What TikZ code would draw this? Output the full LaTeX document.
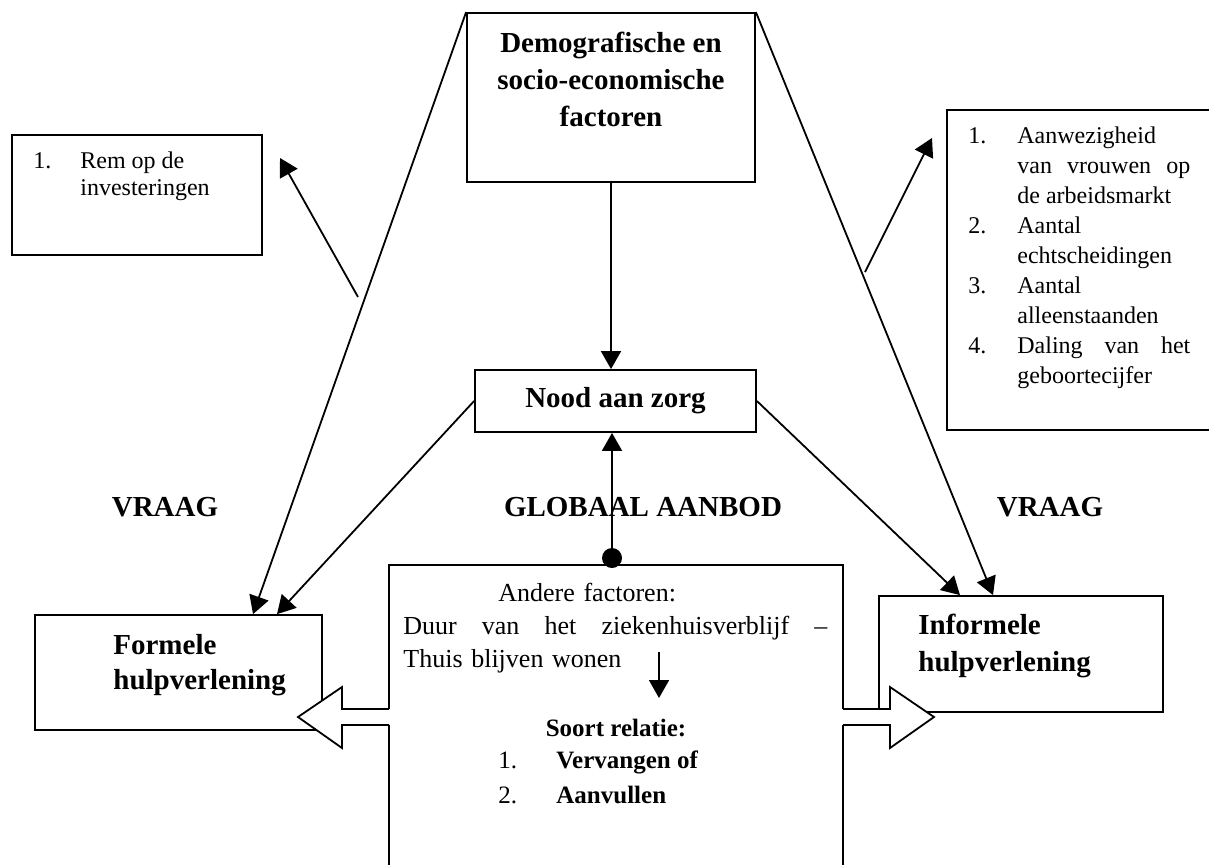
\documentclass[tikz,border=0pt]{standalone}
\usepackage{fontspec}
\setmainfont{Liberation Serif}
\usetikzlibrary{positioning,arrows.meta,calc}

\newcommand{\lw}{0.9pt}
\newcommand{\blokvorm}{(0,-8) -- (-47,-8) -- (-47,-30) -- (-91,0) -- (-47,31) -- (-47,8) -- (0,8)}

\tikzset{
  box/.style={draw, line width=\lw, inner sep=0pt},
  pijl/.style={line width=\lw, -{Triangle[length=9pt,width=10pt]}},
  titel/.style={font=\fontsize{14.5}{18.5}\selectfont\bfseries, inner sep=0pt},
  tekst/.style={font=\fontsize{12}{13.5}\selectfont, inner sep=0pt},
  blok/.style={line width=\lw, fill=white},
}

\begin{document}
\begin{tikzpicture}[x=0.5pt,y=-0.5pt]
  \useasboundingbox (0,0) rectangle (1209,864);

  % bovenaan
  \node[box, minimum width=144pt, minimum height=84.5pt] (demo) at (611,97.5) {};
  \node[titel, align=center, anchor=north] (demotekst) at (611,32) {Demografische en\\socio-economische\\factoren};
  \node[box, titel, minimum width=140.5pt, minimum height=31pt] (nood) at (615.5,401) {Nood aan zorg};

  % zijkant links
  \node[box, minimum width=125pt, minimum height=60pt] (rem) at (137,195) {};
  \node[tekst, anchor=north west] (remtekst) at (33,149)
    {\begin{tabular}{@{}p{23.5pt}@{}l@{}}1. & Rem op de\\ & investeringen\end{tabular}};

  % zijkant rechts (loopt van het blad af)
  \draw[line width=\lw] (1215,110) -- (947,110) -- (947,430) -- (1215,430);
  \node[tekst, font=\fontsize{12}{15}\selectfont, anchor=north west] (factlijst) at (968,122)
    {\begin{tabular}{@{}p{24.5pt}@{}p{86.5pt}@{}}
      1. & Aanwezigheid\\
         & van\hfill vrouwen\hfill op\\
         & de arbeidsmarkt\\
      2. & Aantal\\
         & echtscheidingen\\
      3. & Aantal\\
         & alleenstaanden\\
      4. & Daling\hfill van\hfill het\\
         & geboortecijfer
    \end{tabular}};

  % onderaan
  \node[box, minimum width=143.5pt, minimum height=57.5pt] (formeel) at (178.5,672.5) {};
  \node[titel, font=\fontsize{14.5}{17.5}\selectfont\bfseries, align=left, anchor=north west] (formeeltekst) at (113,634) {Formele\\hulpverlening};
  \node[box, minimum width=142pt, minimum height=58pt] (informeel) at (1021,654) {};
  \node[titel, align=left, anchor=north west] (informeeltekst) at (918,614) {Informele\\hulpverlening};
  \node[box, minimum width=227pt, minimum height=157.5pt] (aanbod) at (616,722.5) {};

  \node[tekst, font=\fontsize{13}{16.5}\selectfont, text width=212pt, align=left, anchor=north west] (andere) at (403,583)
    {\hspace*{47.5pt}Andere factoren:\\
     Duur\hfill van\hfill het\hfill ziekenhuisverblijf\hfill --\\
     Thuis blijven wonen};
  \node[tekst, font=\fontsize{12.5}{17.5}\selectfont\bfseries, anchor=base] (soort) at (616,736) {Soort relatie:};
  \node[tekst, font=\fontsize{12.5}{17.5}\selectfont, anchor=north west] (relaties) at (498,743.5)
    {\begin{tabular}{@{}p{29pt}@{}l@{}}1. & \textbf{Vervangen of}\\ 2. & \textbf{Aanvullen}\end{tabular}};

  % blokpijlen
  \begin{scope}[shift={(389,717)}]
    \fill[white] (0,-8) rectangle (2,8);
    \draw[blok] \blokvorm;
  \end{scope}
  \begin{scope}[shift={(843,717)}, xscale=-1]
    \fill[white] (0,-8) rectangle (2,8);
    \draw[blok] \blokvorm;
  \end{scope}

  \node[titel] (vraaglinks) at (165,507) {VRAAG};
  \node[titel] (globaal) at (643,507) {GLOBAAL AANBOD};
  \node[titel] (vraagrechts) at (1050,507) {VRAAG};

  \node[circle, fill, inner sep=0pt, minimum size=10pt] (punt) at (612,558) {};

  % pijlen
  \draw[pijl] (demo.south) -- (demo.south |- nood.north);
  \draw[pijl] (punt) -- (punt |- nood.south);
  \draw[pijl] (demo.north west) -- ($(formeel.north)+(74.5,0)$);
  \draw[pijl] (nood.west) -- ($(formeel.north)+(98.5,0)$);
  \draw[pijl] (demo.north east) -- ($(informeel.north)+(-28,0)$);
  \draw[pijl] (nood.east) -- ($(informeel.north)+(-61,0)$);

  \coordinate (remstart) at (358,297);
  \coordinate (remeind) at (280,158);
  \draw[pijl] (remstart) -- (remeind);
  \coordinate (factstart) at (865,272);
  \coordinate (facteind) at (932,138);
  \draw[pijl] (factstart) -- (facteind);
  \coordinate (kortstart) at (659,652);
  \coordinate (korteind) at (659,698);
  \draw[pijl] (kortstart) -- (korteind);
\end{tikzpicture}
\end{document}
